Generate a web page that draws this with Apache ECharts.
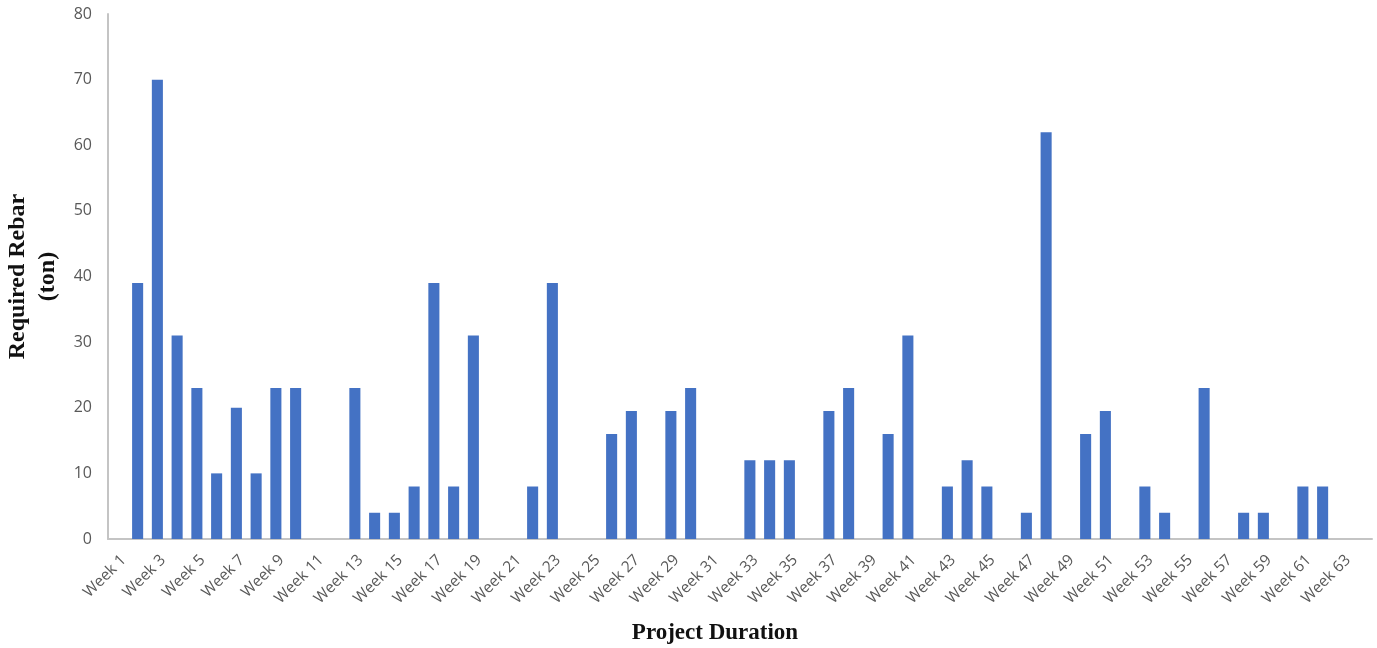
<!DOCTYPE html>
<html>
<head>
<meta charset="utf-8">
<title>Required Rebar per Week</title>
<script src="https://cdn.jsdelivr.net/npm/echarts@6/dist/echarts.min.js"></script>
<style>
  html, body { margin: 0; padding: 0; background: #ffffff; }
  #chart { width: 1377px; height: 648px; }
</style>
</head>
<body>
<div id="chart"></div>
<script>
// Week labels along the project timeline (64 weeks)
const weekCount = 64;
const weeks = [];
for (let i = 1; i <= weekCount; i++) weeks.push('Week ' + i);

// Required rebar per week, in tons
const rebarTons = [
  0, 39, 70, 31, 23, 10, 20, 10, 23, 23,      // weeks 1-10
  0, 0, 23, 4, 4, 8, 39, 8, 31, 0,            // weeks 11-20
  0, 8, 39, 0, 0, 16, 19.5, 0, 19.5, 23,      // weeks 21-30
  0, 0, 12, 12, 12, 0, 19.5, 23, 0, 16,       // weeks 31-40
  31, 0, 8, 12, 8, 0, 4, 62, 0, 16,           // weeks 41-50
  19.5, 0, 8, 4, 0, 23, 0, 4, 4, 0,           // weeks 51-60
  8, 8, 0, 0                                  // weeks 61-64
];

// Value axis range
const yMin = 0;
const yMax = 80;
const yStep = 10;

const chart = echarts.init(document.getElementById('chart'));

const labelColor = '#595959';
const axisColor = '#c4c4c4';
const barColor = '#4472c4';

chart.setOption({
  animation: false,
  grid: {
    left: 108, right: 5, top: 14, bottom: 109,
    containLabel: false,
    outerBoundsMode: 'none'
  },
  xAxis: {
    type: 'category',
    data: weeks,
    name: 'Project Duration',
    nameLocation: 'middle',
    nameGap: 83,
    nameTextStyle: {
      fontFamily: 'Liberation Serif',
      fontWeight: 'bold',
      fontSize: 23,
      color: '#111111',
      // title sits a little left of the plot centre
      padding: [0, 50, 0, 0]
    },
    axisLine: { show: true, lineStyle: { color: axisColor, width: 2 } },
    axisTick: { show: false },
    axisLabel: {
      interval: 1,
      rotate: 45,
      align: 'right',
      verticalAlign: 'top',
      margin: 13,
      fontFamily: 'Open Sans',
      fontSize: 15.5,
      color: labelColor
    },
    splitLine: { show: false }
  },
  yAxis: {
    type: 'value',
    min: yMin,
    max: yMax,
    interval: yStep,
    name: 'Required Rebar\n(ton)',
    nameLocation: 'middle',
    nameRotate: 90,
    nameGap: 45,
    nameTextStyle: {
      fontFamily: 'Liberation Serif',
      fontWeight: 'bold',
      fontSize: 24,
      lineHeight: 30,
      color: '#111111',
      align: 'center'
    },
    axisLine: { show: true, lineStyle: { color: axisColor, width: 2 } },
    axisTick: { show: false },
    axisLabel: {
      margin: 16,
      fontFamily: 'Open Sans',
      fontSize: 16,
      color: labelColor
    },
    splitLine: { show: false }
  },
  series: [{
    type: 'bar',
    data: rebarTons,
    barCategoryGap: '44%',
    itemStyle: { color: barColor }
  }]
});
</script>
</body>
</html>
